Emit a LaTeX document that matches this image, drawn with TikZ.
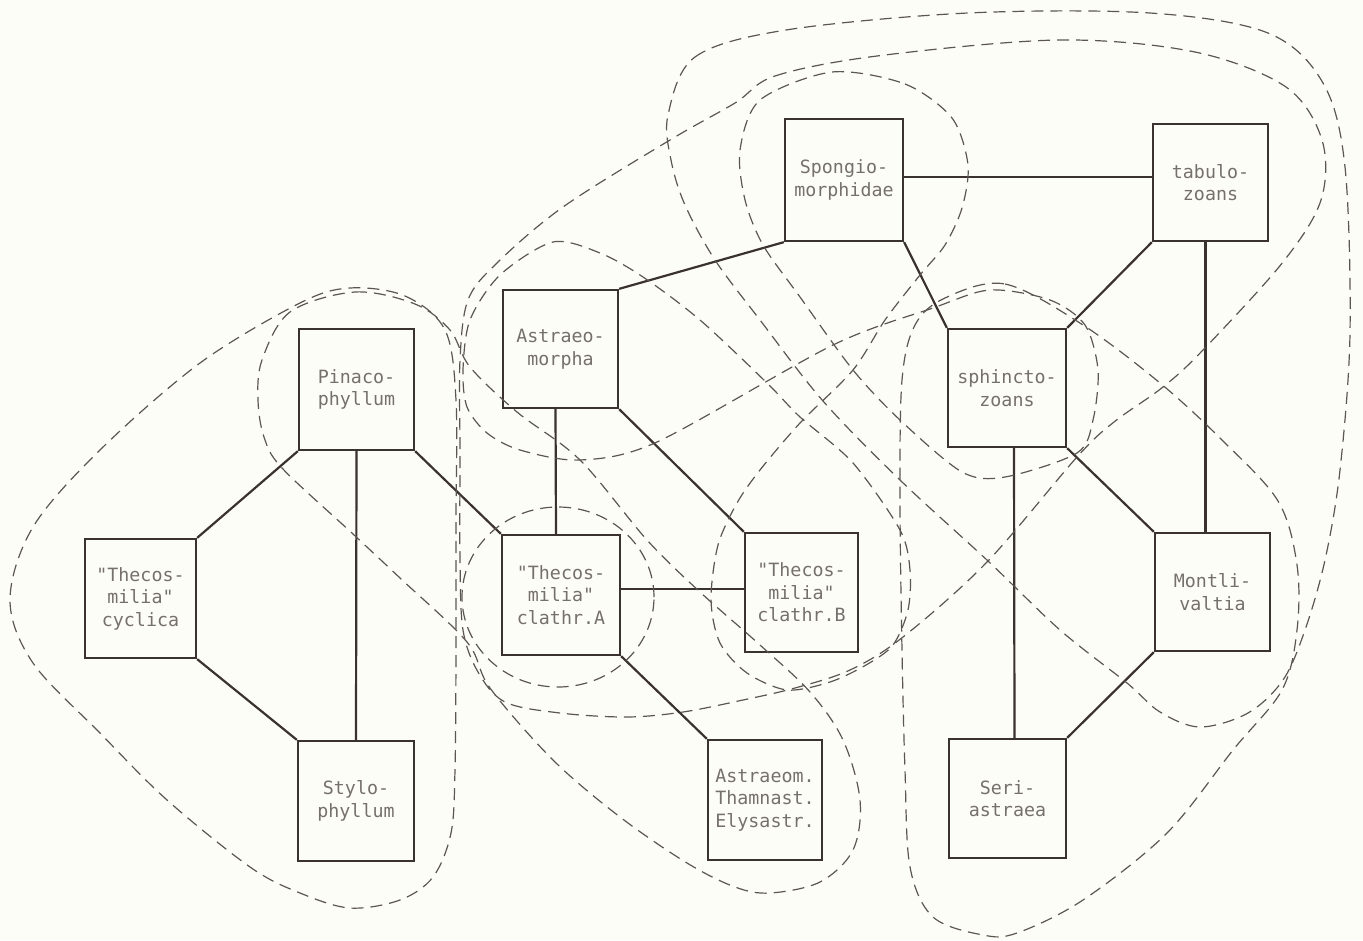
\documentclass[tikz,border=0pt]{standalone}
\usepackage{fontspec}
\newfontfamily\lblfont{DejaVu Sans Mono}
\definecolor{bg}{RGB}{253,253,248}
\definecolor{ink}{RGB}{58,50,46}
\definecolor{dsh}{RGB}{92,86,82}
\definecolor{txt}{RGB}{118,112,108}
\tikzset{
  box/.style={draw=ink, line width=2.3pt, inner sep=0pt, align=center,
    font={\lblfont\fontsize{18.3}{22.5}\selectfont}, text=txt},
  link/.style={draw=ink, line width=2.2pt},
  grp/.style={draw=dsh, line width=1.2pt, dash pattern=on 12pt off 7pt},
}
\begin{document}
\begin{tikzpicture}[x=1pt,y=-1pt]
\fill[bg] (0,0) rectangle (1363,940);
\useasboundingbox (0,0) rectangle (1363,940);

% boxes
\node[box, minimum width=118pt, minimum height=122pt] (spo) at (844,180) {Spongio-\\morphidae};
\node[box, minimum width=115pt, minimum height=117pt] (tab) at (1210.5,182.5) {tabulo-\\zoans};
\node[box, minimum width=115pt, minimum height=118pt] (ast) at (560.5,349) {Astraeo-\\morpha};
\node[box, minimum width=115pt, minimum height=121pt] (pin) at (356.5,389.5) {Pinaco-\\phyllum};
\node[box, minimum width=118pt, minimum height=118pt] (sph) at (1007,388) {sphincto-\\zoans};
\node[box, minimum width=111pt, minimum height=119pt] (cyc) at (140.5,598.5) {"Thecos-\\milia"\\cyclica};
\node[box, minimum width=118pt, minimum height=120pt] (clA) at (561,595) {"Thecos-\\milia"\\clathr.A};
\node[box, minimum width=113pt, minimum height=119pt] (clB) at (801.5,592.5) {"Thecos-\\milia"\\clathr.B};
\node[box, minimum width=115pt, minimum height=118pt] (mon) at (1212.5,592) {Montli-\\valtia};
\node[box, minimum width=116pt, minimum height=120pt] (sty) at (356,801) {Stylo-\\phyllum};
\node[box, minimum width=114pt, minimum height=120pt] (asm) at (765,800) {Astraeom.\\Thamnast.\\Elysastr.};
\node[box, minimum width=117pt, minimum height=119pt] (ser) at (1007.5,798.5) {Seri-\\astraea};

% connectors
\draw[link] ([yshift=3pt]spo.east) -- ([yshift=3pt]spo.east -| tab.west);
\draw[link] (spo.south west) -- (ast.north east);
\draw[link] (spo.south east) -- (sph.north west);
\draw[link] (tab.south west) -- (sph.north east);
\draw[link] ([xshift=-5pt]tab.south) -- ([xshift=-7pt]mon.north);
\draw[link] ([xshift=-5pt]ast.south) -- ([xshift=-5pt]clA.north);
\draw[link] (ast.south east) -- (clB.north west);
\draw[link] (pin.south west) -- (cyc.north east);
\draw[link] (pin.south) -- (sty.north);
\draw[link] (pin.south east) -- (clA.north west);
\draw[link] ([yshift=6pt]clA.east) -- ([yshift=6pt]clA.east -| clB.west);
\draw[link] (clA.south east) -- (asm.north west);
\draw[link] (cyc.south east) -- (sty.north west);
\draw[link] ([xshift=7pt]sph.south) -- ([xshift=7pt]ser.north);
\draw[link] (sph.south east) -- (mon.north west);
\draw[link] (mon.south west) -- (ser.north east);

% group outlines
% A: Pinacophyllum, cyclica, Stylophyllum
\draw[grp] plot[smooth cycle, tension=0.55] coordinates {
 (350,288) (405,296) (445,330) (456,400) (456,520) (456,650) (455,770)
 (451,833) (433,877) (400,900) (350,908) (300,893) (250,867) (167,800)
 (100,733) (33,663) (10,600) (33,527) (100,450) (200,363) (300,303)};
% B: Pinacophyllum, clathr.A, Astraeom.
\draw[grp] plot[smooth cycle, tension=0.55] coordinates {
 (290,312) (355,292) (415,304) (450,330) (470,367) (517,412) (580,460)
 (647,540) (700,592) (760,645) (810,692) (843,740) (860,800) (853,850)
 (820,882) (770,893) (735,887) (687,863) (620,817) (553,760) (490,688)
 (467,642) (400,578) (353,534) (282,468) (264,437) (258,400) (262,360)};
% C: clathr.A
\draw[grp] (558,597) ellipse [x radius=96pt, y radius=90pt];
% E: large group
\draw[grp] plot[smooth cycle, tension=0.55] coordinates {
 (735,103) (775,76) (877,56) (1059,40) (1195,52) (1286,87) (1322,140)
 (1321,200) (1283,262) (1203,350) (1163,387) (1114,422) (1077,457)
 (987,562) (903,637) (850,670) (795,688) (743,700) (683,712) (627,717)
 (560,713) (505,702) (478,672) (463,630) (460,560) (460,450) (460,360)
 (468,300) (497,263) (563,207) (670,140)};
% F: outermost top group with Montlivaltia loop
\draw[grp] plot[smooth cycle, tension=0.55] coordinates {
 (668,115) (695,57) (786,30) (968,13) (1150,13) (1268,33) (1323,83)
 (1345,167) (1350,333) (1340,470) (1325,560) (1305,630) (1283,680)
 (1248,713) (1200,727) (1160,712) (1127,683) (1060,630) (988,561)
 (900,480) (823,401) (760,320) (715,260) (685,205) (671,160)};
% G: sphinctozoans, Montlivaltia, Seriastraea
\draw[grp] plot[smooth cycle, tension=0.55] coordinates {
 (945,298) (1005,284) (1083,325) (1160,383) (1222,440) (1278,501)
 (1297,565) (1297,630) (1282,690) (1233,750) (1167,833) (1083,900)
 (1017,933) (983,935) (933,917) (910,867) (905,770) (902,650) (900,500)
 (902,380) (915,325)};
% T: Spongiomorphidae / sphinctozoans / Astraeomorpha / clathr.B
\draw[grp] plot[smooth cycle, tension=0.5] coordinates {
 (832,72) (905,84) (952,118) (968,165) (962,208) (945,245) (920,275)
 (885,320) (853,370) (800,423) (760,470) (737,503) (718,545) (711,600)
 (720,643) (747,673) (787,690) (830,682) (866,665) (893,645) (908,610)
 (910,570) (900,530) (853,463) (800,417) (767,383) (700,320) (643,277)
 (600,253) (553,242) (500,275) (470,320) (463,370) (467,407) (487,433)
 (520,450) (580,460) (657,442) (833,345) (933,308) (990,290) (1050,300)
 (1085,325) (1098,370) (1093,420) (1077,453) (1005,477) (962,472)
 (900,420) (853,370) (800,297) (763,245) (745,200) (740,150) (760,100)};
\end{tikzpicture}
\end{document}
